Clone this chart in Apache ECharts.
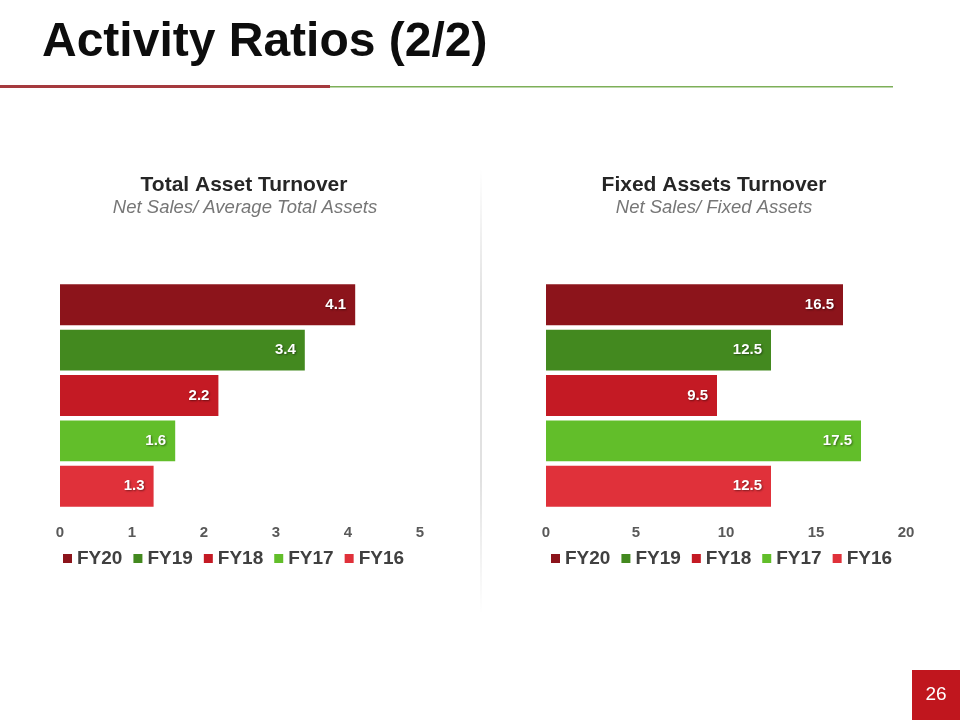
<!DOCTYPE html>
<html>
<head>
<meta charset="utf-8">
<script src="https://cdn.jsdelivr.net/npm/echarts@6/dist/echarts.min.js"></script>
<style>
html,body{margin:0;padding:0;background:#fff;}
#c{width:960px;height:720px;}
</style>
</head>
<body>
<div id="c"></div>
<script>
var categories = ['FY20', 'FY19', 'FY18', 'FY17', 'FY16'];
var colors = ['#8C141B', '#43891F', '#C41A24', '#62BE2A', '#E0313A'];
var totalAssetTurnover = [4.1, 3.4, 2.2, 1.6, 1.3];
var fixedAssetsTurnover = [16.5, 12.5, 9.5, 17.5, 12.5];
var leftTicks = { min: 0, max: 5, interval: 1 };
var rightTicks = { min: 0, max: 20, interval: 5 };

var FONT = '"Liberation Sans", Arial, sans-serif';

function makeSeries(values, axisIndex) {
  return categories.map(function (name, i) {
    var d = categories.map(function (_, j) { return j === i ? values[i] : '-'; });
    return {
      name: name,
      type: 'bar',
      xAxisIndex: axisIndex,
      yAxisIndex: axisIndex,
      barGap: '-100%',
      barCategoryGap: '10%',
      data: d,
      itemStyle: { color: colors[i] },
      emphasis: { disabled: true },
      label: {
        show: true,
        position: 'insideRight',
        distance: 9,
        color: '#fff',
        fontFamily: FONT,
        fontWeight: 'bold',
        fontSize: 15,
        textShadowColor: 'rgba(0,0,0,0.45)',
        textShadowBlur: 2,
        textShadowOffsetX: 1,
        textShadowOffsetY: 1
      }
    };
  });
}

function xAxis(ticks, idx) {
  return {
    type: 'value', gridIndex: idx,
    min: ticks.min, max: ticks.max, interval: ticks.interval,
    axisLine: { show: false }, axisTick: { show: false }, splitLine: { show: false },
    axisLabel: { color: '#595959', fontFamily: FONT, fontWeight: 'bold', fontSize: 15, margin: 16 }
  };
}
function yAxis(idx) {
  return {
    type: 'category', gridIndex: idx, data: categories, inverse: true,
    axisLine: { show: false }, axisTick: { show: false }, axisLabel: { show: false }, splitLine: { show: false }
  };
}
function legend(left) {
  return {
    left: left, top: 544, itemWidth: 9, itemHeight: 9, itemGap: 11, icon: 'rect',
    data: categories,
    textStyle: { color: '#404040', fontFamily: FONT, fontWeight: 'bold', fontSize: 19 },
    selectedMode: false
  };
}

var chart = echarts.init(document.getElementById('c'), null, { renderer: 'canvas' });
chart.setOption({
  animation: false,
  backgroundColor: '#fff',
  grid: [
    { left: 60, top: 282, width: 360, height: 227 },
    { left: 546, top: 282, width: 360, height: 227 }
  ],
  xAxis: [xAxis(leftTicks, 0), xAxis(rightTicks, 1)],
  yAxis: [yAxis(0), yAxis(1)],
  legend: [legend(58), legend(546)],
  series: makeSeries(totalAssetTurnover, 0).concat(makeSeries(fixedAssetsTurnover, 1)),
  graphic: [
    { type: 'text', left: 42, top: 19, style: { text: 'Activity Ratios (2/2)', fill: '#0D0D0D', font: 'bold 48px ' + FONT } },
    { type: 'rect', shape: { x: 0, y: 85, width: 330, height: 3 }, style: { fill: '#A53A3E' } },
    { type: 'rect', shape: { x: 330, y: 86, width: 563, height: 1.5 }, style: { fill: '#7DAF58' } },
    { type: 'line', shape: { x1: 481, y1: 170, x2: 481, y2: 612 },
      style: { lineWidth: 1, stroke: new echarts.graphic.LinearGradient(0, 0, 0, 1, [
        { offset: 0, color: 'rgba(195,195,195,0)' },
        { offset: 0.3, color: 'rgba(195,195,195,1)' },
        { offset: 0.7, color: 'rgba(195,195,195,1)' },
        { offset: 1, color: 'rgba(195,195,195,0)' }]) } },
    { type: 'text', x: 244, y: 185, style: { text: 'Total Asset Turnover', fill: '#262626', font: 'bold 21px ' + FONT, textAlign: 'center', textVerticalAlign: 'middle' } },
    { type: 'text', x: 245, y: 208, style: { text: 'Net Sales/ Average Total Assets', fill: '#767676', font: 'italic 18.5px ' + FONT, textAlign: 'center', textVerticalAlign: 'middle' } },
    { type: 'text', x: 714, y: 185, style: { text: 'Fixed Assets Turnover', fill: '#262626', font: 'bold 21px ' + FONT, textAlign: 'center', textVerticalAlign: 'middle' } },
    { type: 'text', x: 714, y: 208, style: { text: 'Net Sales/ Fixed Assets', fill: '#767676', font: 'italic 18.5px ' + FONT, textAlign: 'center', textVerticalAlign: 'middle' } },
    { type: 'rect', shape: { x: 912, y: 670, width: 48, height: 50 }, style: { fill: '#C0161E' } },
    { type: 'text', x: 936, y: 695, style: { text: '26', fill: '#fff', font: '19px ' + FONT, textAlign: 'center', textVerticalAlign: 'middle' } }
  ]
});
</script>
</body>
</html>
